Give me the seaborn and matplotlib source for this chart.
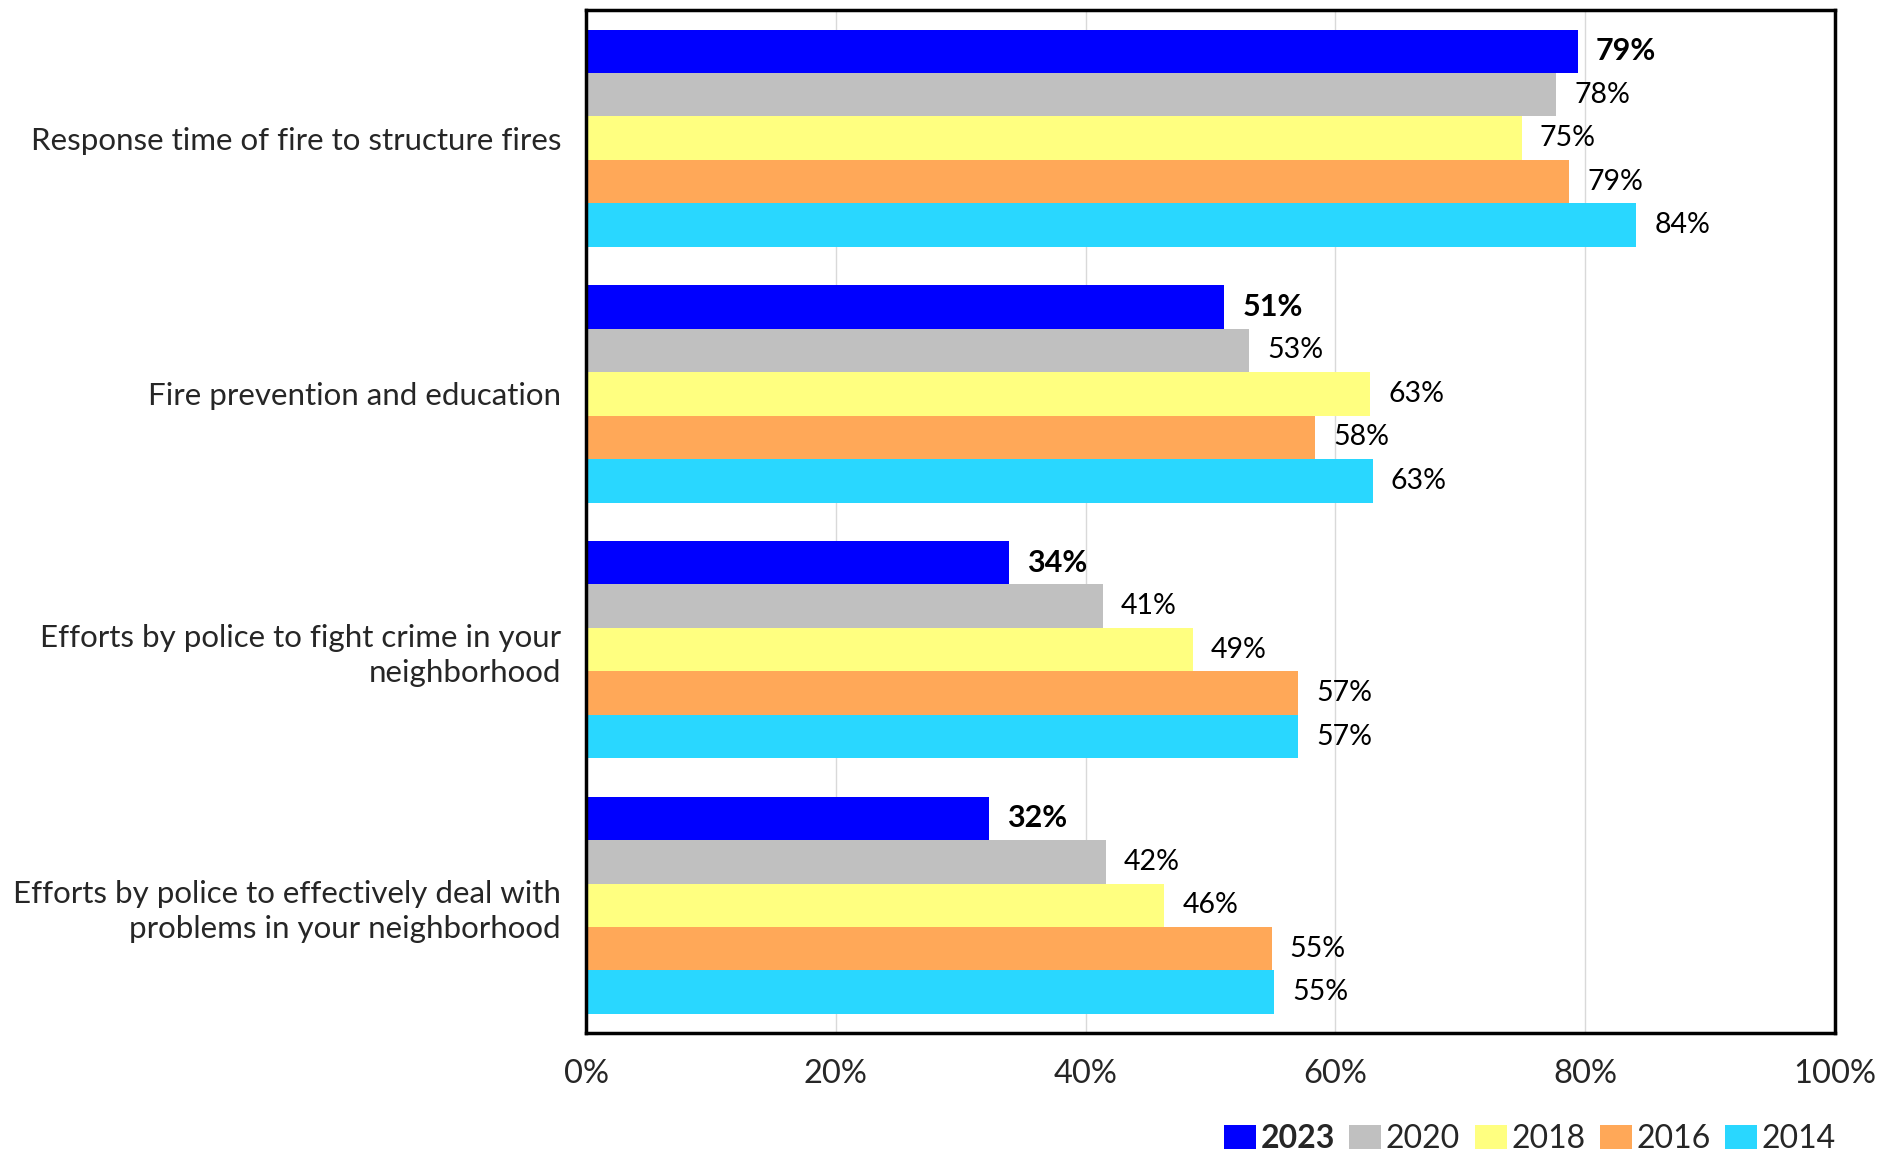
import pandas as pd
import matplotlib.pyplot as plt
import seaborn as sns

# Categories (questions) and survey years
categories = [
    "Response time of fire to structure fires",
    "Fire prevention and education",
    "Efforts by police to fight crime in your\nneighborhood",
    "Efforts by police to effectively deal with\nproblems in your neighborhood",
]
years = ["2023", "2020", "2018", "2016", "2014"]

# Percent satisfied, per year
vals_2023 = [79.4, 51.1, 33.9, 32.3]
vals_2020 = [77.7, 53.1, 41.4, 41.6]
vals_2018 = [74.9, 62.8, 48.6, 46.3]
vals_2016 = [78.7, 58.4, 57.0, 54.9]
vals_2014 = [84.1, 63.0, 57.0, 55.1]

colors = ["#0000FF", "#C0C0C0", "#FFFF80", "#FFA858", "#29D7FF"]

# Long-form table for seaborn
series = [vals_2023, vals_2020, vals_2018, vals_2016, vals_2014]
rows = []
for year, vals in zip(years, series):
    for cat, v in zip(categories, vals):
        rows.append({"category": cat, "year": year, "value": v})
df = pd.DataFrame(rows)

sns.set_style("white")
plt.rcParams["font.family"] = ["Lato", "DejaVu Sans"]

fig = plt.figure(figsize=(18.99, 11.53), dpi=100)
ax = fig.add_axes([0.3086, 0.104, 0.6577, 0.887])

sns.barplot(data=df, y="category", x="value", hue="year", order=categories,
            hue_order=years, palette=colors, orient="h", width=0.85,
            saturation=1, linewidth=0, ax=ax)

# Value labels
for i, cont in enumerate(ax.containers):
    labels = [f"{b.get_width():.0f}%" for b in cont]
    ax.bar_label(cont, labels=labels, padding=13,
                 fontsize=22 if i == 0 else 20.5,
                 fontweight="bold" if i == 0 else "normal", color="black")

ax.set_xlim(0, 100)
ax.set_xticks([0, 20, 40, 60, 80, 100])
ax.set_xticklabels([f"{t}%" for t in [0, 20, 40, 60, 80, 100]], fontsize=23.5)
ax.xaxis.grid(True, color="#D9D9D9", linewidth=1)
ax.set_axisbelow(True)
ax.tick_params(axis="x", length=0, pad=19)
ax.tick_params(axis="y", length=0, pad=18, labelsize=22.5)
for t in ax.get_yticklabels():
    t.set_linespacing(1.3)
ax.set_xlabel("")
ax.set_ylabel("")
for sp in ax.spines.values():
    sp.set_visible(True)
    sp.set_color("black")
    sp.set_linewidth(2.5)

# Legend below the plot, right aligned
handles, lbls = ax.get_legend_handles_labels()
ax.legend_.remove()
leg = fig.legend(handles, lbls, loc="lower right", bbox_to_anchor=(0.982, -0.026),
                 ncol=5, frameon=False, fontsize=23, handlelength=1.0,
                 handleheight=0.8, handletextpad=0.15, columnspacing=0.45)
leg.get_texts()[0].set_fontweight("bold")

plt.savefig("out.png", dpi=100)
